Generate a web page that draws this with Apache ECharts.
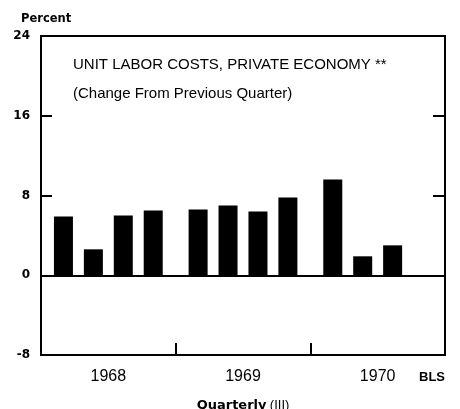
<!DOCTYPE html>
<html>
<head>
    <meta charset="utf-8">
    <title>Unit labor costs, private economy</title>
    <script src="https://cdn.jsdelivr.net/npm/echarts@6/dist/echarts.min.js"></script>
</head>
<body style="margin:0;">
    <div id="main" style="width:460px;height:409px;"></div>
    <script type="text/javascript">
        // data (percent change from previous quarter)
        var years = ['1968', '1969', '1970'];
        var quarters = ['1968 I', '1968 II', '1968 III', '1968 IV',
                        '1969 I', '1969 II', '1969 III', '1969 IV',
                        '1970 I', '1970 II', '1970 III'];
        var values = [5.9, 2.6, 6.0, 6.5, 6.6, 7.0, 6.4, 7.8, 9.6, 1.9, 3.0];
        var yMin = -8, yMax = 24, yStep = 8;

        // each year gets 9 narrow slots, quarters sit on slots 1,3,5,7
        var slotsPerYear = 9;
        var slots = [];
        var barData = [];
        years.forEach(function (y) {
            for (var s = 0; s < slotsPerYear; s++) {
                slots.push(y + '-' + s);
                barData.push('-');
            }
        });
        quarters.forEach(function (q, i) {
            var parts = q.split(' ');
            var yi = years.indexOf(parts[0]);
            var qi = ['I', 'II', 'III', 'IV'].indexOf(parts[1]);
            barData[yi * slotsPerYear + 1 + qi * 2] = { value: values[i], name: q };
        });

        var myChart = echarts.init(document.getElementById('main'));

        var option = {
            animation: false,
            backgroundColor: '#fff',
            textStyle: { fontFamily: 'Liberation Sans' },
            title: {
                text: 'UNIT LABOR COSTS, PRIVATE ECONOMY **\n(Change From Previous Quarter)',
                left: 68,
                top: 45,
                textStyle: {
                    fontFamily: 'Liberation Sans',
                    fontWeight: 'normal',
                    fontSize: 15,
                    lineHeight: 29,
                    color: '#000'
                }
            },
            grid: {
                left: 41, right: 15, top: 36, bottom: 54,
                outerBoundsMode: 'none',
                containLabel: false,
                show: true,
                borderColor: '#000',
                borderWidth: 2
            },
            graphic: [
                {
                    type: 'text', left: 21, top: 13,
                    style: { text: 'Percent', font: 'bold 11.5px DejaVu Sans', fill: '#000' }
                },
                {
                    type: 'text', right: 15, top: 371,
                    style: { text: 'BLS', font: 'bold 13px Liberation Sans', fill: '#000' }
                }
            ],
            xAxis: {
                type: 'category',
                data: slots,
                axisLine: { show: false, onZero: false },
                axisTick: {
                    show: true,
                    inside: true,
                    length: 12,
                    interval: function (index) {
                        return index > 0 && index % slotsPerYear === 0 && index < slots.length;
                    },
                    lineStyle: { color: '#000', width: 2 }
                },
                axisLabel: {
                    interval: 0,
                    margin: 14,
                    fontFamily: 'Liberation Sans',
                    fontSize: 16,
                    color: '#000',
                    formatter: function (v) {
                        var p = v.split('-');
                        return p[1] === '4' ? p[0] : '';
                    }
                },
                name: '{b|Quarterly} {n|(III)}',
                nameLocation: 'middle',
                nameGap: 44,
                nameTextStyle: {
                    rich: {
                        b: { fontFamily: 'DejaVu Sans', fontWeight: 'bold', fontSize: 13, color: '#000' },
                        n: { fontFamily: 'Liberation Sans', fontSize: 13, color: '#000' }
                    }
                }
            },
            yAxis: [
                {
                    type: 'value',
                    min: yMin, max: yMax, interval: yStep,
                    position: 'left',
                    splitLine: { show: false },
                    axisLine: { show: false },
                    axisTick: { show: true, inside: true, length: 11, lineStyle: { color: '#000', width: 2 } },
                    axisLabel: {
                        margin: 11,
                        fontFamily: 'DejaVu Sans',
                        fontWeight: 'bold',
                        fontSize: 12,
                        color: '#000'
                    }
                },
                {
                    type: 'value',
                    min: yMin, max: yMax, interval: yStep,
                    position: 'right',
                    splitLine: { show: false },
                    axisLine: { show: false },
                    axisTick: { show: true, inside: true, length: 12, lineStyle: { color: '#000', width: 2 } },
                    axisLabel: { show: false }
                }
            ],
            series: [{
                name: 'Unit labor costs',
                type: 'bar',
                barWidth: 19,
                data: barData,
                itemStyle: { color: '#000' },
                markLine: {
                    silent: true,
                    symbol: 'none',
                    label: { show: false },
                    lineStyle: { color: '#000', width: 2, type: 'solid' },
                    data: [{ yAxis: 0 }]
                }
            }]
        };

        myChart.setOption(option);
    </script>
</body>
</html>
